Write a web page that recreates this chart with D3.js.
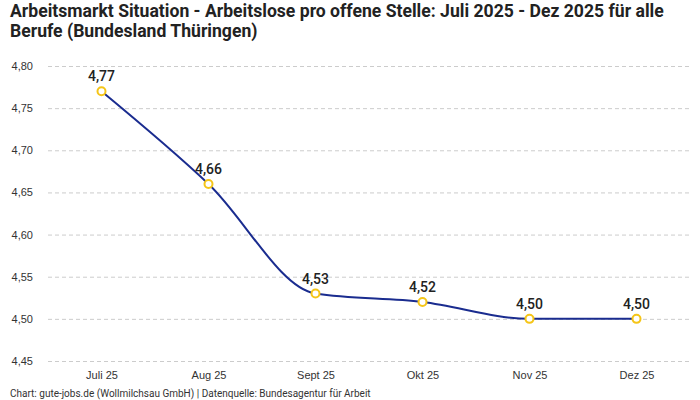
<!DOCTYPE html>
<html>
<head>
<meta charset="utf-8">
<script src="https://cdn.jsdelivr.net/npm/d3@7"></script>
<style>
  body { margin: 0; background: #fff; }
  svg { font-family: Roboto, "Noto Sans", sans-serif; }
</style>
</head>
<body>
<script>
// monthly values
const months = ['Juli 25', 'Aug 25', 'Sept 25', 'Okt 25', 'Nov 25', 'Dez 25'];
const ratio = [4.77, 4.66, 4.53, 4.52, 4.50, 4.50];
const yTicks = [4.45, 4.50, 4.55, 4.60, 4.65, 4.70, 4.75, 4.80];

const width = 700;
const height = 400;
const fmt = v => d3.format('.2f')(v).replace('.', ',');

const svg = d3.select('body')
  .append('svg')
  .attr('width', width)
  .attr('height', height);

const x = d3.scalePoint().domain(months).range([48, 690]).padding(0.5);
const y = d3.scaleLinear().domain([4.45, 4.80]).range([361, 66]);

// title
const title = svg.append('text')
  .attr('x', 10)
  .attr('font-size', 17.6)
  .attr('font-weight', 'bold')
  .attr('fill', '#222');
title.append('tspan').attr('x', 10).attr('y', 17)
  .text('Arbeitsmarkt Situation - Arbeitslose pro offene Stelle: Juli 2025 - Dez 2025 für alle');
title.append('tspan').attr('x', 10).attr('y', 37)
  .text('Berufe (Bundesland Thüringen)');

// gridlines + y labels
const yAxis = d3.axisLeft(y)
  .tickValues(yTicks)
  .tickSize(-(690 - 48))
  .tickFormat(fmt);

svg.append('g')
  .attr('transform', 'translate(48,0)')
  .call(yAxis)
  .call(g => g.select('.domain').remove())
  .call(g => g.selectAll('.tick line')
    .attr('stroke', '#ccc')
    .attr('stroke-dasharray', '4,3'))
  .call(g => g.selectAll('.tick text')
    .attr('x', -15)
    .attr('font-size', 11)
    .attr('fill', '#333'));

// x labels
svg.append('g')
  .attr('transform', 'translate(0,361)')
  .call(d3.axisBottom(x).tickSize(0).tickPadding(10))
  .call(g => g.select('.domain').remove())
  .call(g => g.selectAll('.tick text')
    .attr('font-size', 11)
    .attr('fill', '#333'));

// line
const line = d3.line()
  .x((d, i) => x(months[i]))
  .y(d => y(d))
  .curve(d3.curveMonotoneX);

svg.append('path')
  .datum(ratio)
  .attr('d', line)
  .attr('fill', 'none')
  .attr('stroke', '#1a2c8f')
  .attr('stroke-width', 2);

svg.selectAll('circle')
  .data(ratio)
  .enter()
  .append('circle')
  .attr('cx', (d, i) => x(months[i]))
  .attr('cy', d => y(d))
  .attr('r', 4)
  .attr('fill', '#fff')
  .attr('stroke', '#f5c518')
  .attr('stroke-width', 2);

svg.selectAll('.val')
  .data(ratio)
  .enter()
  .append('text')
  .attr('class', 'val')
  .attr('x', (d, i) => x(months[i]))
  .attr('y', d => y(d) - 10)
  .attr('text-anchor', 'middle')
  .attr('font-size', 14)
  .attr('font-weight', 500)
  .attr('fill', '#222')
  .text(fmt);

// footer
svg.append('text')
  .attr('x', 10)
  .attr('y', 397)
  .attr('font-size', 10)
  .attr('fill', '#333')
  .text('Chart: gute-jobs.de (Wollmilchsau GmbH) | Datenquelle: Bundesagentur für Arbeit');
</script>
</body>
</html>
